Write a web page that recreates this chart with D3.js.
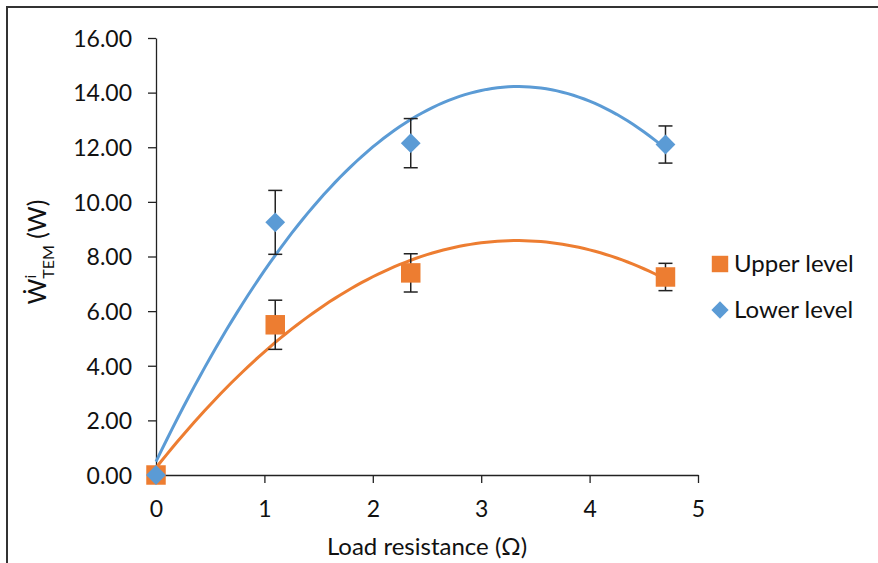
<!DOCTYPE html>
<html>
<head>
<meta charset="utf-8" />
<script src="https://d3js.org/d3.v7.min.js"></script>
<style>
  body { margin: 0; background: #fff; }
  text { font-family: Lato, "Open Sans", sans-serif; fill: #111; }
  .axis path, .axis line { stroke: #222; stroke-width: 1.3px; }
</style>
</head>
<body>
<svg id="chart" width="878" height="563"></svg>
<script>
// resistance (ohm)
var resistance = [0, 1.1, 2.35, 4.7];
// power, with half-length of error bars
var upperLevel = [0, 5.5, 7.4, 7.25];
var upperErr = [0, 0.9, 0.7, 0.5];
var lowerLevel = [0, 9.25, 12.15, 12.1];
var lowerErr = [0, 1.17, 0.9, 0.68];
var xTicks = [0, 1, 2, 3, 4, 5];
var yTicks = [0, 2, 4, 6, 8, 10, 12, 14, 16];
var seriesNames = ["Upper level", "Lower level"];
var colors = ["#ED7D31", "#5B9BD5"];

var svg = d3.select("#chart");

// frame
svg.append("rect")
  .attr("x", 7).attr("y", 7)
  .attr("width", 900).attr("height", 600)
  .attr("fill", "none").attr("stroke", "#333").attr("stroke-width", 2);

var x = d3.scaleLinear().domain([0, 5]).range([156, 698]);
var y = d3.scaleLinear().domain([0, 16]).range([475, 38]);

var yAxis = svg.append("g").attr("class", "axis")
  .attr("transform", "translate(156,0)")
  .call(d3.axisLeft(y).tickValues(yTicks).tickSize(8).tickSizeOuter(0)
    .tickFormat(d3.format(".2f")));
yAxis.selectAll("text").attr("font-size", 23).attr("dx", -13).attr("dy", "0.36em").style("fill", "#111");

var xAxis = svg.append("g").attr("class", "axis")
  .attr("transform", "translate(0,475)")
  .call(d3.axisBottom(x).tickValues(xTicks).tickSize(8).tickSizeOuter(0)
    .tickFormat(d3.format("d")));
xAxis.selectAll("text").attr("font-size", 23).attr("dy", 31).style("fill", "#111");

// axis titles
svg.append("text")
  .attr("x", 427).attr("y", 555)
  .attr("text-anchor", "middle")
  .attr("font-size", 24)
  .text("Load resistance (Ω)");

var yt = svg.append("text")
  .attr("transform", "translate(46,252) rotate(-90)")
  .attr("text-anchor", "middle")
  .attr("font-size", 25);
yt.append("tspan").text("Ẇ");
yt.append("tspan").attr("font-size", 16).attr("dy", -10).text("i");
yt.append("tspan").attr("font-size", 16).attr("dy", 18).attr("dx", -4).text("TEM");
yt.append("tspan").attr("dy", -8).text(" (W)");

// least squares quadratic trendline
function quadFit(xs, ys) {
  var s = [0, 0, 0, 0, 0], t = [0, 0, 0];
  xs.forEach(function(xi, i) {
    for (var k = 0; k < 5; k++) s[k] += Math.pow(xi, k);
    for (var k = 0; k < 3; k++) t[k] += Math.pow(xi, k) * ys[i];
  });
  var m = [[s[0], s[1], s[2], t[0]], [s[1], s[2], s[3], t[1]], [s[2], s[3], s[4], t[2]]];
  for (var i = 0; i < 3; i++) {
    for (var j = i + 1; j < 3; j++) {
      var f = m[j][i] / m[i][i];
      for (var k = i; k < 4; k++) m[j][k] -= f * m[i][k];
    }
  }
  var c = [0, 0, 0];
  for (var i = 2; i >= 0; i--) {
    var v = m[i][3];
    for (var k = i + 1; k < 3; k++) v -= m[i][k] * c[k];
    c[i] = v / m[i][i];
  }
  return function(xv) { return c[0] + c[1] * xv + c[2] * xv * xv; };
}

var series = [
  { vals: upperLevel, err: upperErr, color: colors[0], shape: "square" },
  { vals: lowerLevel, err: lowerErr, color: colors[1], shape: "diamond" }
];

var line = d3.line().x(function(d) { return x(d[0]); }).y(function(d) { return y(d[1]); });

series.forEach(function(s) {
  var fit = quadFit(resistance, s.vals);
  var xs = d3.range(0, 4.7001, 0.05);
  svg.append("path")
    .datum(xs.map(function(v) { return [v, fit(v)]; }))
    .attr("d", line)
    .attr("fill", "none")
    .attr("stroke", s.color)
    .attr("stroke-width", 3);
});

series.forEach(function(s) {
  var g = svg.append("g");
  resistance.forEach(function(r, i) {
    if (s.err[i] > 0) {
      var hi = y(s.vals[i] + s.err[i]), lo = y(s.vals[i] - s.err[i]);
      g.append("line").attr("x1", x(r)).attr("x2", x(r)).attr("y1", hi).attr("y2", lo)
        .attr("stroke", "#222").attr("stroke-width", 1.5);
      [hi, lo].forEach(function(yy) {
        g.append("line").attr("x1", x(r) - 7).attr("x2", x(r) + 7).attr("y1", yy).attr("y2", yy)
          .attr("stroke", "#222").attr("stroke-width", 1.5);
      });
    }
  });
  var sym = s.shape === "square" ? d3.symbolSquare : d3.symbolDiamond2;
  var size = s.shape === "square" ? 380 : 250;
  resistance.forEach(function(r, i) {
    g.append("path")
      .attr("d", d3.symbol().type(sym).size(size)())
      .attr("transform", "translate(" + x(r) + "," + y(s.vals[i]) + ")")
      .attr("fill", s.color);
  });
});

// legend
var legend = svg.append("g");
seriesNames.forEach(function(name, i) {
  var ly = 264 + i * 46;
  var sym = i === 0 ? d3.symbolSquare : d3.symbolDiamond2;
  legend.append("path")
    .attr("d", d3.symbol().type(sym).size(i === 0 ? 270 : 190)())
    .attr("transform", "translate(720," + ly + ")")
    .attr("fill", colors[i]);
  legend.append("text")
    .attr("x", 734).attr("y", ly + 8)
    .attr("font-size", 24)
    .text(name);
});
</script>
</body>
</html>
